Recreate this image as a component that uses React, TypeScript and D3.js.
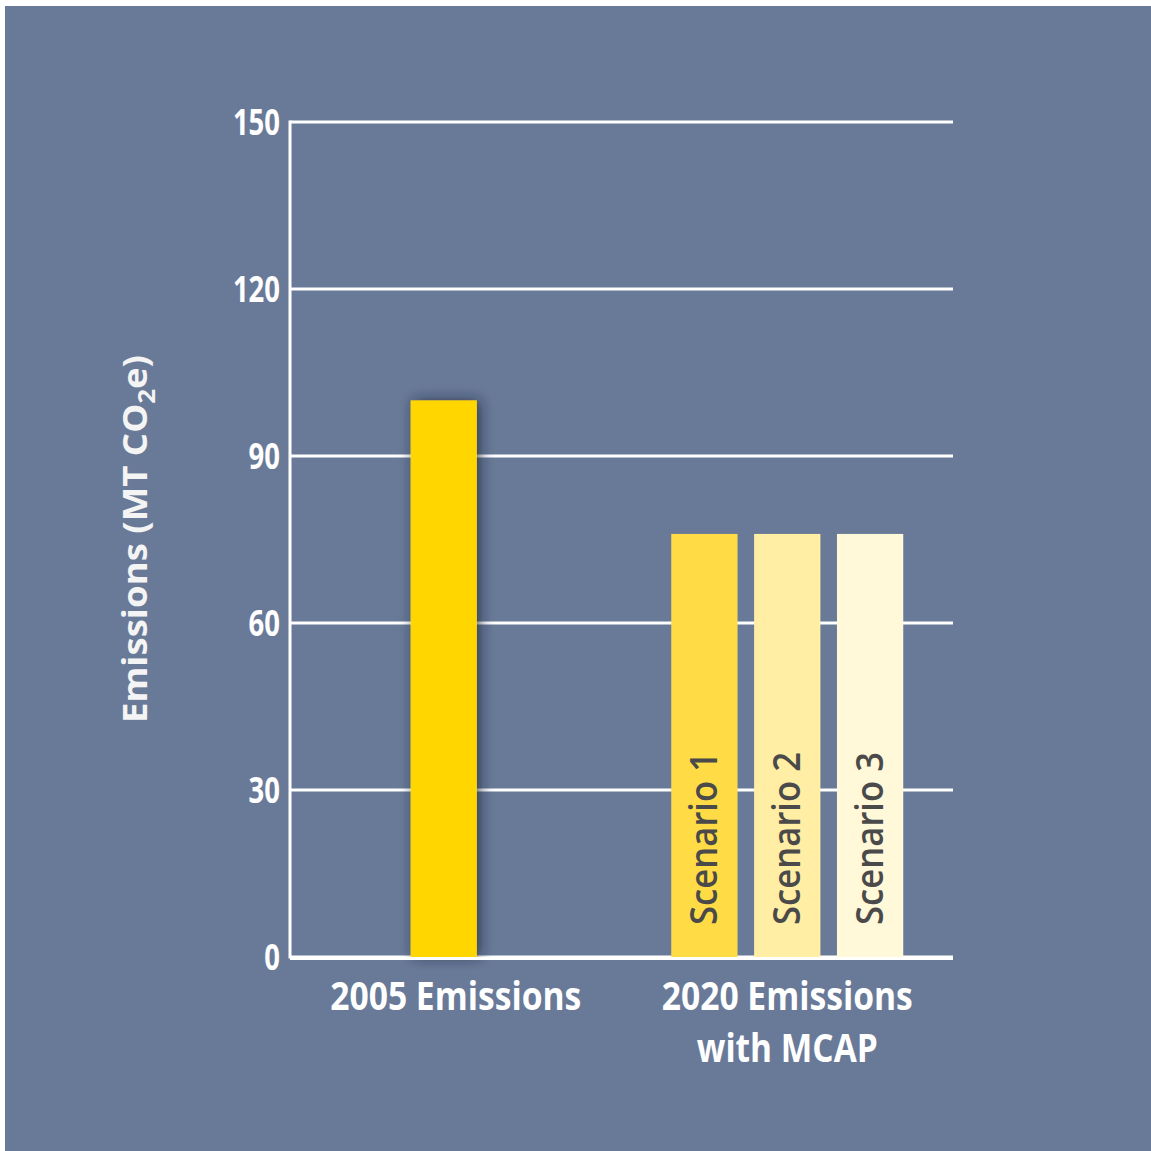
import React from "react";
import * as d3 from "d3";

const categories = ["2005 Emissions", "2020 Emissions"];
const categoryLines = [["2005 Emissions"], ["2020 Emissions", "with MCAP"]];
const baselineValue = [100];
const scenarioNames = ["Scenario 1", "Scenario 2", "Scenario 3"];
const scenarioValues = [76, 76, 76];
const yTicks = [0, 30, 60, 90, 120, 150];

const W = 1151;
const H = 1151;
const BG = "#697a98";
const BAR_2005 = "#ffd600";
const SCENARIO_COLORS = ["#ffdc45", "#ffeea3", "#fff8d9"];
const FONT = "'Open Sans', 'Noto Sans', sans-serif";

export default function App() {
  const left = 290;
  const right = 953;
  const top = 122;
  const bottom = 957;

  const y = d3.scaleLinear().domain([0, 150]).range([bottom, top]);
  const x = d3.scaleBand<string>().domain(categories).range([left, right]);
  const inner = d3
    .scaleBand<string>()
    .domain(scenarioNames)
    .range([0, 232])
    .paddingInner(0.2);
  const bw = inner.bandwidth();

  const x2005 = (x(categories[0]) as number) + x.bandwidth() / 2 - bw / 2 - 12;
  const group2020 = (x(categories[1]) as number) + (x.bandwidth() - 232) / 2;

  return (
    <svg
      width={W}
      height={H}
      style={{ position: "absolute", left: 0, top: 0, background: "#ffffff" }}
    >
      <defs>
        <filter id="barShadow" x="-50%" y="-20%" width="200%" height="140%">
          <feDropShadow dx="3" dy="0" stdDeviation="7" floodColor="#1a2438" floodOpacity="0.75" />
        </filter>
      </defs>
      <rect x={5} y={6} width={W - 5} height={H - 6} fill={BG} />

      {/* horizontal grid */}
      {yTicks.map((t) => (
        <line
          key={t}
          x1={left}
          x2={right}
          y1={y(t)}
          y2={y(t)}
          stroke="#ffffff"
          strokeWidth={3}
        />
      ))}
      {/* y axis line */}
      <line x1={left} x2={left} y1={top - 1.5} y2={bottom + 1.5} stroke="#ffffff" strokeWidth={3} />

      {/* tick labels */}
      {yTicks.map((t) => (
        <text
          key={"l" + t}
          x={280}
          y={y(t) + 13}
          textAnchor="end"
          fill="#ffffff"
          fontFamily={FONT}
          fontWeight={700}
          fontSize={36}
          textLength={String(t).length * 15.7}
          lengthAdjust="spacingAndGlyphs"
        >
          {t}
        </text>
      ))}

      {/* 2005 bar */}
      <rect
        x={x2005}
        y={y(baselineValue[0])}
        width={bw}
        height={y(0) - y(baselineValue[0])}
        fill={BAR_2005}
        filter="url(#barShadow)"
      />

      {/* 2020 scenario bars */}
      {scenarioNames.map((s, i) => {
        const bx = group2020 + (inner(s) as number);
        return (
          <g key={s}>
            <rect
              x={bx}
              y={y(scenarioValues[i])}
              width={bw}
              height={y(0) - y(scenarioValues[i])}
              fill={SCENARIO_COLORS[i]}
            />
            <text
              transform={`translate(${bx + bw / 2 + 13},${bottom - 32}) rotate(-90)`}
              fill="#4a4a4a"
              fontFamily={FONT}
              fontWeight={700}
              fontSize={37}
              textLength={173}
              lengthAdjust="spacingAndGlyphs"
              style={{ fontWeight: 600 }}
            >
              {s}
            </text>
          </g>
        );
      })}

      {/* baseline drawn over bars */}
      <line x1={left} x2={right} y1={bottom + 1.5} y2={bottom + 1.5} stroke="#ffffff" strokeWidth={3} />

      {/* category labels */}
      {categoryLines.map((lines, i) => {
        const cx = (x(categories[i]) as number) + x.bandwidth() / 2;
        return lines.map((ln, j) => (
          <text
            key={ln}
            x={cx}
            y={1010 + j * 52}
            textAnchor="middle"
            fill="#ffffff"
            fontFamily={FONT}
            fontWeight={700}
            fontSize={40}
            textLength={ln === "with MCAP" ? 181 : 251}
            lengthAdjust="spacingAndGlyphs"
          >
            {ln}
          </text>
        ));
      })}

      {/* y axis title */}
      <text
        transform={`translate(147,${(355 + 723) / 2}) rotate(-90)`}
        textAnchor="middle"
        fill="#f4f4f4"
        fontFamily={FONT}
        fontWeight={700}
        fontSize={34}
        textLength={368}
        lengthAdjust="spacingAndGlyphs"
      >
        Emissions (MT CO
        <tspan fontSize={24} dy={8}>2</tspan>
        <tspan dy={-8}>e)</tspan>
      </text>
    </svg>
  );
}
